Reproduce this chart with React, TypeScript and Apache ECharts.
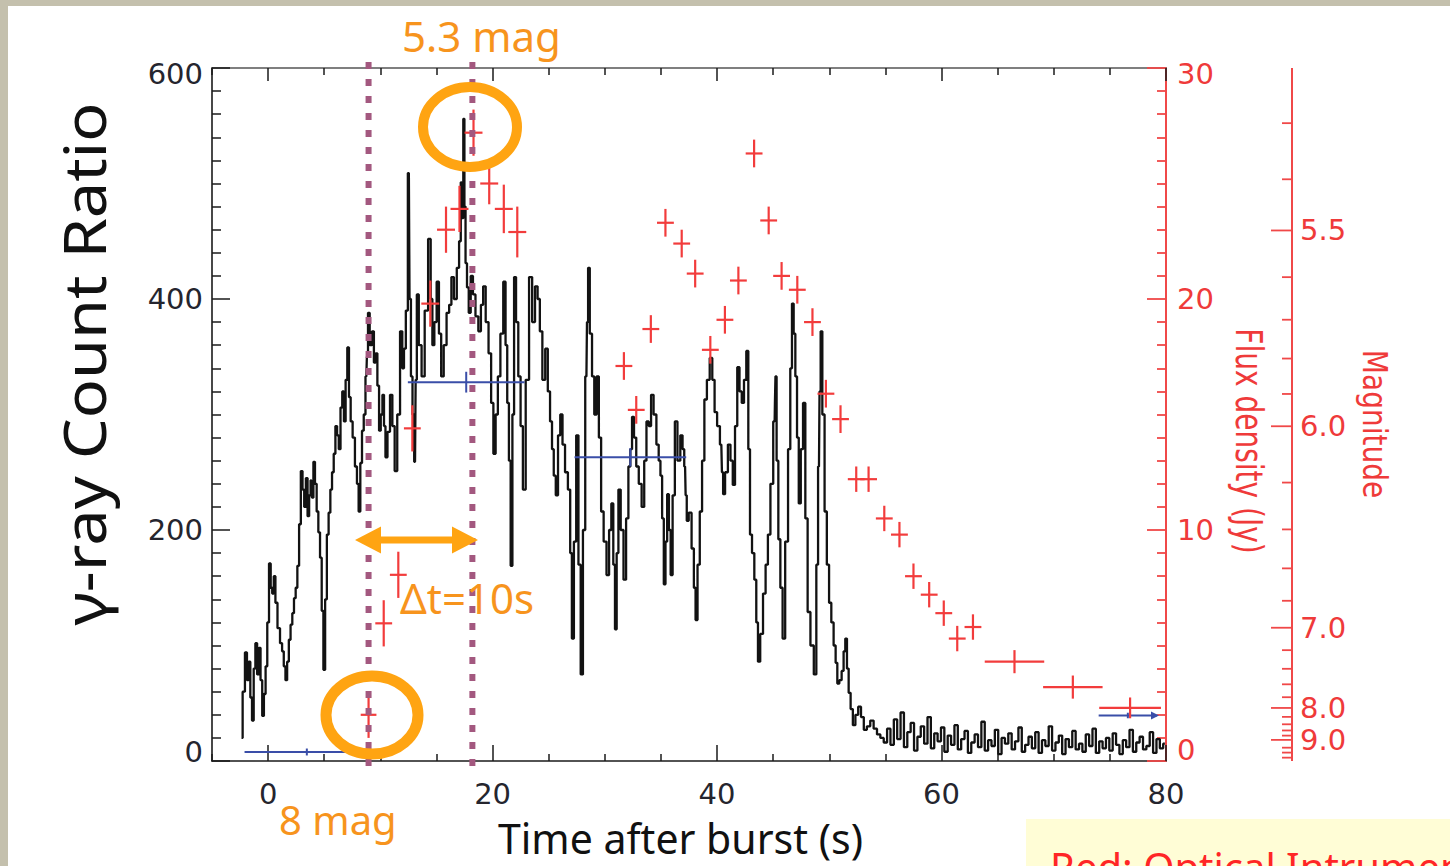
import React, { useEffect, useRef } from "react";
import * as echarts from "echarts";

// ---------- data ----------
const gammaTime = [
  -2.37, -2.17, -1.96, -1.81, -1.66, -1.51, -1.36, -1.21, -1.06, -0.9,
  -0.75, -0.6, -0.45, -0.3, -0.15, 0.0, 0.16, 0.3, 0.43, 0.58,
  0.72, 0.95, 1.17, 1.32, 1.47, 1.62, 1.77, 1.92, 2.08, 2.23,
  2.38, 2.53, 2.68, 2.84, 2.99, 3.14, 3.29, 3.44, 3.59, 3.72,
  3.85, 3.97, 4.1, 4.25, 4.4, 4.55, 4.7, 4.85, 5.0, 5.16,
  5.31, 5.47, 5.62, 5.77, 5.92, 6.07, 6.22, 6.37, 6.53, 6.68,
  6.83, 6.98, 7.13, 7.28, 7.43, 7.63, 7.84, 7.99, 8.14, 8.29,
  8.44, 8.6, 8.75, 8.85, 8.95, 9.15, 9.35, 9.5, 9.66, 9.81,
  9.96, 10.11, 10.26, 10.39, 10.52, 10.75, 10.97, 11.17, 11.38, 11.63,
  11.88, 12.03, 12.18, 12.36, 12.54, 12.66, 12.79, 12.94, 13.09, 13.2,
  13.3, 13.55, 13.8, 14.1, 14.41, 14.56, 14.71, 14.91, 15.12, 15.32,
  15.52, 15.77, 16.03, 16.23, 16.43, 16.68, 16.94, 17.09, 17.24, 17.34,
  17.44, 17.54, 17.64, 17.8, 17.95, 18.15, 18.35, 18.6, 18.86, 19.06,
  19.26, 19.51, 19.77, 19.97, 20.17, 20.37, 20.57, 20.82, 21.08, 21.23,
  21.38, 21.53, 21.69, 21.84, 21.99, 22.19, 22.39, 22.6, 22.8, 23.1,
  23.4, 23.65, 23.91, 24.11, 24.31, 24.56, 24.82, 25.02, 25.22, 25.37,
  25.53, 25.73, 25.93, 26.13, 26.33, 26.58, 26.84, 26.99, 27.14, 27.35,
  27.55, 27.75, 27.95, 28.15, 28.36, 28.46, 28.56, 28.76, 28.96, 29.16,
  29.37, 29.57, 29.77, 30.02, 30.28, 30.48, 30.68, 30.83, 30.98, 31.13,
  31.29, 31.54, 31.79, 32.0, 32.2, 32.35, 32.5, 32.7, 32.9, 33.15,
  33.41, 33.61, 33.81, 34.02, 34.22, 34.47, 34.72, 34.88, 35.03, 35.18,
  35.33, 35.48, 35.63, 35.79, 35.94, 36.14, 36.34, 36.6, 36.85, 37.0,
  37.15, 37.25, 37.35, 37.6, 37.86, 38.01, 38.16, 38.36, 38.56, 38.77,
  38.97, 39.22, 39.47, 39.68, 39.88, 40.13, 40.38, 40.49, 40.59, 40.84,
  41.09, 41.3, 41.5, 41.7, 41.9, 42.1, 42.3, 42.5, 42.71, 42.86,
  43.01, 43.22, 43.42, 43.57, 43.72, 43.97, 44.22, 44.43, 44.63, 44.88,
  45.13, 45.18, 45.23, 45.38, 45.54, 45.74, 45.94, 46.2, 46.45, 46.6,
  46.75, 46.9, 47.05, 47.2, 47.36, 47.56, 47.76, 47.97, 48.17, 48.47,
  48.77, 48.92, 49.08, 49.18, 49.28, 49.48, 49.68, 49.88, 50.08, 50.28,
  50.49, 50.64, 50.79, 51.0, 51.2, 51.35, 51.5, 51.65, 51.8, 52.0,
  52.2, 52.45, 52.7, 52.95, 53.2, 53.5, 53.8, 54.1, 54.4, 54.7,
  55.0,
  55.3, 55.6, 55.9, 56.2, 56.5, 56.8, 57.1, 57.4, 57.7, 58.0, 58.3, 58.6, 58.9, 59.2, 59.5, 59.8, 60.1, 60.4, 60.7,
  61.0, 61.3, 61.6, 61.9, 62.2, 62.5, 62.8, 63.1, 63.4, 63.7, 64.0, 64.3, 64.6, 64.9, 65.2, 65.5, 65.8, 66.1, 66.4,
  66.7, 67.0, 67.3, 67.6, 67.9, 68.2, 68.5, 68.8, 69.1, 69.4, 69.7, 70.0, 70.3, 70.6, 70.9, 71.2, 71.5, 71.8, 72.1,
  72.4, 72.7, 73.0, 73.3, 73.6, 73.9, 74.2, 74.5, 74.8, 75.1, 75.4, 75.7, 76.0, 76.3, 76.6, 76.9, 77.2, 77.5, 77.8,
  78.1, 78.4, 78.7, 79.0, 79.3, 79.6, 79.9,
];
const gammaCount = [
  20, 60, 94, 70, 86, 55, 35, 80, 102, 75,
  98, 70, 39, 58, 82, 120, 171, 150, 145, 160,
  137, 115, 102, 95, 82, 70, 86, 105, 118, 128,
  141, 150, 169, 205, 251, 235, 220, 245, 212, 230,
  243, 228, 259, 240, 216, 198, 176, 130, 79, 140,
  196, 215, 235, 250, 266, 290, 282, 270, 306, 320,
  294, 330, 358, 315, 294, 280, 255, 240, 216, 258,
  286, 300, 333, 350, 388, 360, 372, 345, 353, 325,
  286, 300, 317, 290, 263, 285, 317, 290, 251, 300,
  372, 340, 357, 390, 509, 400, 333, 300, 259, 330,
  404, 360, 333, 390, 452, 400, 360, 380, 415, 370,
  333, 360, 388, 395, 419, 400, 427, 450, 501, 470,
  556, 480, 431, 410, 388, 420, 404, 385, 372, 395,
  411, 380, 353, 310, 266, 300, 333, 370, 415, 360,
  310, 260, 169, 300, 419, 380, 333, 290, 235, 330,
  419, 380, 411, 400, 372, 330, 357, 320, 294, 270,
  247, 230, 282, 300, 274, 250, 235, 180, 106, 190,
  282, 170, 75, 200, 333, 380, 427, 370, 333, 300,
  333, 280, 216, 190, 161, 200, 223, 170, 114, 180,
  235, 200, 157, 210, 255, 270, 298, 280, 255, 240,
  220, 260, 294, 290, 317, 300, 274, 260, 247, 210,
  153, 190, 231, 200, 161, 230, 294, 260, 282, 270,
  255, 230, 208, 215, 184, 150, 122, 170, 216, 260,
  313, 330, 349, 330, 302, 290, 274, 250, 231, 250,
  274, 260, 239, 290, 341, 320, 310, 330, 355, 270,
  196, 180, 157, 120, 86, 110, 145, 170, 196, 240,
  294, 310, 333, 260, 192, 150, 106, 190, 270, 340,
  396, 370, 333, 280, 223, 270, 310, 210, 129, 100,
  75, 170, 255, 320, 372, 300, 216, 170, 137, 120,
  100, 85, 67, 70, 78, 95, 106, 80, 59, 45,
  31, 40, 47, 38, 27, 30, 35, 28, 23, 20,
  16,
  28, 14, 36, 19, 42, 12, 25, 33, 9, 21, 30, 15, 38, 11, 24, 17, 29, 8, 22,
  14, 31, 10, 19, 26, 7, 16, 23, 12, 34, 9, 18, 13, 27, 6, 20, 15, 24, 10,
  17, 29, 8, 14, 21, 11, 25, 7, 18, 13, 30, 9, 16, 22, 6, 19, 12, 26, 10,
  15, 8, 23, 13, 28, 7, 17, 11, 20, 9, 24, 14, 6, 18, 12, 27, 8, 16, 21,
  10, 13, 25, 7, 19, 11, 15,
];

const opticalTime = [
  8.95, 10.3, 11.6, 12.85, 14.45, 15.85, 17.05, 18.3, 19.7, 21.0, 22.2,
  31.7, 32.8, 34.1, 35.4, 36.85, 38.05, 39.4, 40.7, 41.9, 43.3, 44.6, 45.75, 47.15, 48.5, 49.7,
  51.0, 52.4, 53.5, 54.9, 56.25, 57.5, 58.9, 60.2, 61.4, 62.8, 66.5, 71.7, 76.8,
];
const opticalFlux = [
  2.0, 5.96, 8.06, 14.4, 19.8, 23.0, 23.9, 27.2, 25.0, 23.9, 22.9,
  17.1, 15.2, 18.7, 23.3, 22.4, 21.1, 17.8, 19.1, 20.8, 26.3, 23.4, 21.0, 20.4, 19.0, 15.9,
  14.8, 12.2, 12.2, 10.5, 9.8, 8.0, 7.2, 6.4, 5.3, 5.8, 4.3, 3.2, 2.3,
];
const opticalTimeErr = [
  0.7, 0.75, 0.75, 0.75, 0.8, 0.8, 0.8, 0.8, 0.8, 0.8, 0.8,
  0.75, 0.75, 0.75, 0.75, 0.75, 0.75, 0.75, 0.75, 0.75, 0.75, 0.75, 0.75, 0.75, 0.75, 0.75,
  0.75, 0.75, 0.75, 0.75, 0.75, 0.75, 0.75, 0.75, 0.75, 0.75, 2.65, 2.65, 2.75,
];
const opticalFluxErr = [
  1.0, 1.0, 1.0, 1.0, 1.0, 1.0, 1.0, 1.0, 0.9, 1.05, 1.1,
  0.6, 0.6, 0.6, 0.6, 0.6, 0.6, 0.6, 0.6, 0.6, 0.6, 0.6, 0.6, 0.6, 0.6, 0.6,
  0.6, 0.55, 0.55, 0.55, 0.55, 0.55, 0.55, 0.55, 0.55, 0.55, 0.5, 0.5, 0.45,
];

const blueStart = [-2.1, 12.45, 27.3, 74.0];
const blueEnd = [9.0, 22.85, 37.25, 79.2];
const blueFlux = [0.39, 16.4, 13.15, 1.97];
const blueErr = [0.15, 0.45, 0.4, 0.12];
const blueArrow = [0, 0, 0, 1];

const markerTimes = [8.95, 18.2];

const xMajorTicks = [0, 20, 40, 60, 80];
const xMinorTicks = [-5, 5, 10, 15, 25, 30, 35, 45, 50, 55, 65, 70, 75];
const countMajorTicks = [0, 200, 400, 600];
const countMinorTicks = [
  20, 40, 60, 80, 100, 120, 140, 160, 180, 220, 240, 260, 280, 300, 320, 340, 360, 380,
  420, 440, 460, 480, 500, 520, 540, 560, 580,
];
const fluxMajorTicks = [0, 10, 20, 30];
const fluxMinorTicks = [
  1, 2, 3, 4, 5, 6, 7, 8, 9, 11, 12, 13, 14, 15, 16, 17, 18, 19, 21, 22, 23, 24, 25, 26, 27, 28, 29,
];
const magMajorTicks = [5.5, 6.0, 7.0, 8.0, 9.0];
const magMinorTicks = [5.3, 5.4, 5.6, 5.7, 5.8, 5.9, 6.2, 6.4, 6.6, 6.8, 7.2, 7.4, 7.6, 7.8, 8.2, 8.4, 8.6, 8.8, 9.5, 10, 11];

const VEGA_ZERO_JY = 3640; // flux density (Jy) of magnitude 0

// ---------- style ----------
const X_MIN = -5;
const X_MAX = 80;
const COUNT_MAX = 600;
const FLUX_MAX = 30;
const MAG_AXIS_OFFSET = 126;
const AXIS_FONT = '"DejaVu Sans", sans-serif';
const SLIDE_FONT = '"Noto Sans", "Open Sans", sans-serif';
const BLACK_LABEL = "#25252e";
const RED = "#f04848";
const RED_TEXT = "#ef3a3a";
const ORANGE = "#ffa412";
const ORANGE_TEXT = "#f7941d";

function buildOption(): any {
  const xBase = { type: "value", min: X_MIN, max: X_MAX, splitLine: { show: false } };
  const tickBlack = { color: "#1a1a1a", width: 1.5 };
  const tickRed = { color: RED, width: 1.8 };
  const labelBlack = { fontSize: 29, fontFamily: AXIS_FONT, color: BLACK_LABEL };
  const labelRed = { fontSize: 29, fontFamily: AXIS_FONT, color: RED_TEXT };

  const n = Math.min(gammaTime.length, gammaCount.length);
  const gammaData = gammaTime.slice(0, n).map((t, i) => [t, gammaCount[i]]);
  const opticalData = opticalTime.map((t, i) => [t, opticalFlux[i], opticalTimeErr[i], opticalFluxErr[i]]);
  const blueData = blueStart.map((s, i) => [s, blueFlux[i], blueEnd[i], blueErr[i], blueArrow[i]]);
  const magData = [
    ...magMajorTicks.map((m) => [m, 1]),
    ...magMinorTicks.map((m) => [m, 0]),
  ];

  return {
    animation: false,
    backgroundColor: "transparent",
    grid: { left: 212, right: 284, top: 68, bottom: 105, containLabel: false },
    xAxis: [
      {
        ...xBase,
        position: "bottom",
        axisLine: { show: true, onZero: false, lineStyle: { color: "#1a1a1a", width: 1.6 } },
        axisTick: { show: true, inside: true, length: 16, customValues: xMajorTicks, lineStyle: tickBlack },
        axisLabel: { show: true, customValues: xMajorTicks, margin: 18, ...labelBlack },
      },
      {
        ...xBase,
        position: "bottom",
        axisLine: { show: false, onZero: false },
        axisTick: { show: true, inside: true, length: 7, customValues: xMinorTicks, lineStyle: tickBlack },
        axisLabel: { show: false },
      },
      {
        ...xBase,
        position: "top",
        axisLine: { show: true, onZero: false, lineStyle: { color: "#555555", width: 1.6 } },
        axisTick: { show: true, inside: true, length: 13, customValues: xMajorTicks, lineStyle: tickBlack },
        axisLabel: { show: false },
      },
      {
        ...xBase,
        position: "top",
        axisLine: { show: false, onZero: false },
        axisTick: { show: true, inside: true, length: 7, customValues: xMinorTicks, lineStyle: tickBlack },
        axisLabel: { show: false },
      },
    ],
    yAxis: [
      {
        type: "value",
        position: "left",
        min: 0,
        max: COUNT_MAX,
        splitLine: { show: false },
        axisLine: { show: true, onZero: false, lineStyle: { color: "#1a1a1a", width: 1.6 } },
        axisTick: { show: true, inside: true, length: 18, customValues: countMajorTicks, lineStyle: tickBlack },
        axisLabel: {
          show: true,
          customValues: countMajorTicks,
          margin: 9,
          ...labelBlack,
          formatter: (v: number) => (v === 0 ? "{lo|0}" : v === COUNT_MAX ? "{hi|" + v + "}" : String(v)),
          rich: {
            lo: { ...labelBlack, padding: [0, 0, 18, 0] },
            hi: { ...labelBlack, padding: [12, 0, 0, 0] },
          },
        },
      },
      {
        type: "value",
        position: "left",
        min: 0,
        max: COUNT_MAX,
        splitLine: { show: false },
        axisLine: { show: false, onZero: false },
        axisTick: { show: true, inside: true, length: 9, customValues: countMinorTicks, lineStyle: tickBlack },
        axisLabel: { show: false },
      },
      {
        type: "value",
        position: "right",
        min: 0,
        max: FLUX_MAX,
        splitLine: { show: false },
        axisLine: { show: true, onZero: false, lineStyle: { color: RED, width: 2 } },
        axisTick: { show: true, inside: true, length: 19, customValues: fluxMajorTicks, lineStyle: tickRed },
        axisLabel: {
          show: true,
          customValues: fluxMajorTicks,
          margin: 11,
          ...labelRed,
          formatter: (v: number) => (v === 0 ? "{lo|0}" : v === FLUX_MAX ? "{hi|" + v + "}" : String(v)),
          rich: {
            lo: { ...labelRed, padding: [0, 0, 22, 0] },
            hi: { ...labelRed, padding: [12, 0, 0, 0] },
          },
        },
      },
      {
        type: "value",
        position: "right",
        min: 0,
        max: FLUX_MAX,
        splitLine: { show: false },
        axisLine: { show: false, onZero: false },
        axisTick: { show: true, inside: true, length: 9, customValues: fluxMinorTicks, lineStyle: tickRed },
        axisLabel: { show: false },
      },
    ],
    series: [
      {
        name: "gamma-ray",
        type: "line",
        xAxisIndex: 0,
        yAxisIndex: 0,
        data: gammaData,
        step: "middle",
        symbol: "none",
        lineStyle: { color: "#121212", width: 2.3 },
        z: 2,
      },
      {
        name: "blue",
        type: "custom",
        xAxisIndex: 0,
        yAxisIndex: 2,
        data: blueData,
        encode: { x: [0, 2], y: 1 },
        clip: false,
        z: 3,
        renderItem: (_p: any, api: any) => {
          const s = api.value(0);
          const f = api.value(1);
          const e = api.value(2);
          const err = api.value(3);
          const a = api.coord([s, f]);
          const b = api.coord([e, f]);
          const mid = (s + e) / 2;
          const c1 = api.coord([mid, f + err]);
          const c2 = api.coord([mid, f - err]);
          const style = { stroke: "#3a4ea8", lineWidth: 2 };
          const children: any[] = [
            { type: "line", shape: { x1: a[0], y1: a[1], x2: b[0], y2: b[1] }, style },
            { type: "line", shape: { x1: c1[0], y1: c1[1], x2: c2[0], y2: c2[1] }, style },
          ];
          if (api.value(4) === 1) {
            children.push({
              type: "polygon",
              shape: { points: [[b[0] + 2, b[1]], [b[0] - 6, b[1] - 4], [b[0] - 6, b[1] + 4]] },
              style: { fill: "#3a4ea8" },
            });
          }
          return { type: "group", children };
        },
      },
      {
        name: "optical",
        type: "custom",
        xAxisIndex: 0,
        yAxisIndex: 2,
        data: opticalData,
        encode: { x: 0, y: 1 },
        clip: false,
        z: 4,
        renderItem: (_p: any, api: any) => {
          const t = api.value(0);
          const f = api.value(1);
          const dt = api.value(2);
          const df = api.value(3);
          const l = api.coord([t - dt, f]);
          const r = api.coord([t + dt, f]);
          const u = api.coord([t, f + df]);
          const d = api.coord([t, f - df]);
          const style = { stroke: "#f23c3c", lineWidth: 2.2 };
          return {
            type: "group",
            children: [
              { type: "line", shape: { x1: l[0], y1: l[1], x2: r[0], y2: r[1] }, style },
              { type: "line", shape: { x1: u[0], y1: u[1], x2: d[0], y2: d[1] }, style },
            ],
          };
        },
      },
      {
        name: "markers",
        type: "custom",
        xAxisIndex: 0,
        yAxisIndex: 0,
        data: markerTimes.map((t) => [t, 0]),
        encode: { x: 0, y: 1 },
        clip: false,
        z: 6,
        renderItem: (_p: any, api: any) => {
          const t = api.value(0);
          const top = api.coord([t, COUNT_MAX]);
          const bot = api.coord([t, 0]);
          return {
            type: "line",
            shape: { x1: top[0], y1: top[1] - 6, x2: bot[0], y2: bot[1] + 15 },
            style: { stroke: "#a3587f", lineWidth: 6, lineDash: [7, 10] },
          };
        },
      },
      {
        name: "magnitude",
        type: "custom",
        xAxisIndex: 0,
        yAxisIndex: 2,
        data: magData,
        encode: { x: 0, y: 1 },
        clip: false,
        z: 5,
        renderItem: (p: any, api: any) => {
          const m = api.value(0);
          const major = api.value(1) === 1;
          const f = VEGA_ZERO_JY * Math.pow(10, -0.4 * m);
          const pt = api.coord([X_MAX, f]);
          const x = pt[0] + MAG_AXIS_OFFSET;
          const children: any[] = [];
          if (p.dataIndex === 0) {
            const top = api.coord([X_MAX, FLUX_MAX]);
            const bot = api.coord([X_MAX, 0]);
            children.push({
              type: "line",
              shape: { x1: x, y1: top[1], x2: x, y2: bot[1] },
              style: { stroke: RED, lineWidth: 2 },
            });
          }
          children.push({
            type: "line",
            shape: { x1: x - (major ? 21 : 10), y1: pt[1], x2: x, y2: pt[1] },
            style: { stroke: RED, lineWidth: 1.8 },
          });
          if (major) {
            children.push({
              type: "text",
              x: x + 8,
              y: pt[1],
              style: {
                text: m.toFixed(1),
                fill: RED_TEXT,
                font: `29px ${AXIS_FONT}`,
                textAlign: "left",
                align: "left",
                textVerticalAlign: "middle",
                verticalAlign: "middle",
              },
            });
          }
          return { type: "group", children };
        },
      },
    ],
    graphic: [
      // annotation rings
      {
        type: "ellipse",
        shape: { cx: 470, cy: 127, rx: 47, ry: 40 },
        style: { fill: "none", stroke: ORANGE, lineWidth: 10 },
        z: 50,
      },
      {
        type: "ellipse",
        shape: { cx: 372, cy: 715, rx: 46, ry: 39 },
        style: { fill: "none", stroke: ORANGE, lineWidth: 11 },
        z: 50,
      },
      {
        type: "polygon",
        shape: {
          points: [
            [355, 540], [381, 526.5], [381, 536.5], [452, 536.5], [452, 526.5],
            [478, 540], [452, 553.5], [452, 543.5], [381, 543.5], [381, 553.5],
          ],
        },
        style: { fill: ORANGE },
        z: 50,
      },
      {
        type: "text",
        x: 402,
        y: 35,
        style: { text: "5.3 mag", fill: ORANGE_TEXT, font: `42px ${SLIDE_FONT}`, textAlign: "left", textVerticalAlign: "middle" },
        z: 50,
      },
      {
        type: "text",
        x: 400,
        y: 597,
        style: { text: "Δt=10s", fill: ORANGE_TEXT, font: `42px ${SLIDE_FONT}`, textAlign: "left", textVerticalAlign: "middle" },
        z: 50,
      },
      {
        type: "text",
        x: 279,
        y: 819,
        style: { text: "8 mag", fill: ORANGE_TEXT, font: `40px ${SLIDE_FONT}`, textAlign: "left", textVerticalAlign: "middle" },
        z: 50,
      },
      // axis titles
      {
        type: "text",
        x: 498,
        y: 838,
        style: {
          text: "Time after burst (s)",
          fill: "#111111",
          font: `41px ${SLIDE_FONT}`,
          lineHeight: 34,
          textAlign: "left",
          textVerticalAlign: "middle",
        },
        z: 50,
      },
      {
        type: "text",
        x: 83,
        y: 364,
        rotation: Math.PI / 2,
        scaleX: 1.1,
        style: { text: "γ-ray Count Ratio", fill: "#111111", font: `59px ${SLIDE_FONT}`, textAlign: "center", textVerticalAlign: "middle" },
        z: 50,
      },
      {
        type: "text",
        x: 1248,
        y: 441,
        rotation: -Math.PI / 2,
        scaleY: 1.3,
        style: { text: "Flux density (Jy)", fill: RED_TEXT, font: `28px ${AXIS_FONT}`, textAlign: "center", textVerticalAlign: "middle" },
        z: 50,
      },
      {
        type: "text",
        x: 1374,
        y: 424,
        rotation: -Math.PI / 2,
        scaleY: 1.18,
        style: { text: "Magnitude", fill: RED_TEXT, font: `28px ${AXIS_FONT}`, textAlign: "center", textVerticalAlign: "middle" },
        z: 50,
      },
      // note box (cut off by the bottom edge, as in the slide)
      {
        type: "rect",
        shape: { x: 1026, y: 819, width: 424, height: 47 },
        style: { fill: "#fffdd6" },
        z: 40,
      },
      {
        type: "text",
        x: 1050,
        y: 866,
        style: { text: "Red: Optical Intrument", fill: "#ff2626", font: `40px ${SLIDE_FONT}`, textAlign: "left", textVerticalAlign: "middle" },
        z: 41,
      },
    ],
  };
}

export default function App() {
  const ref = useRef<HTMLDivElement>(null);
  useEffect(() => {
    if (!ref.current) return;
    const chart = echarts.init(ref.current, undefined, { renderer: "svg" });
    chart.setOption(buildOption());
    return () => chart.dispose();
  }, []);
  return (
    <div
      style={{
        position: "fixed",
        left: 0,
        top: 0,
        width: 1450,
        height: 866,
        background: "#c4c0ad",
        overflow: "hidden",
      }}
    >
      <div style={{ position: "absolute", left: 8, top: 6, right: 0, bottom: 0, background: "#ffffff" }} />
      <div ref={ref} style={{ position: "absolute", left: 0, top: 0, width: 1450, height: 866 }} />
    </div>
  );
}
